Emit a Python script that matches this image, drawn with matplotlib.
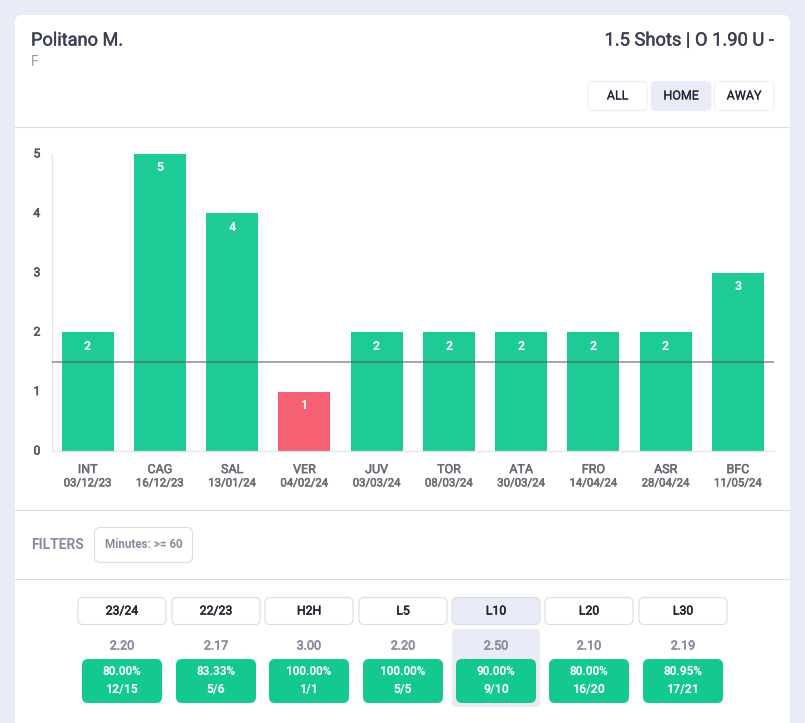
import matplotlib
matplotlib.use("Agg")
import matplotlib.pyplot as plt
import matplotlib.patheffects as pe
from matplotlib.patches import FancyBboxPatch
from matplotlib.transforms import ScaledTranslation

plt.rcParams['font.family'] = ['Roboto', 'DejaVu Sans']

# chart data
teams = ["INT", "CAG", "SAL", "VER", "JUV", "TOR", "ATA", "FRO", "ASR", "BFC"]
dates = ["03/12/23", "16/12/23", "13/01/24", "04/02/24", "03/03/24",
         "08/03/24", "30/03/24", "14/04/24", "28/04/24", "11/05/24"]
shots = [2, 5, 4, 1, 2, 2, 2, 2, 2, 3]
line_value = 1.5
y_ticks = [0, 1, 2, 3, 4, 5]

# stats table under the chart
periods = ["23/24", "22/23", "H2H", "L5", "L10", "L20", "L30"]
averages = ["2.20", "2.17", "3.00", "2.20", "2.50", "2.10", "2.19"]
percents = ["80.00%", "83.33%", "100.00%", "100.00%", "90.00%", "80.00%", "80.95%"]
counts = ["12/15", "5/6", "1/1", "5/5", "9/10", "16/20", "17/21"]
range_buttons = ["ALL", "HOME", "AWAY"]

GREEN = "#1ecb97"
RED = "#f56173"
BADGE = "#14c98f"
PAGE = "#e9ecf6"
BORDER = "#dcdde2"
DARK = "#3c3f52"
GREY = "#8a8a9e"

W, H = 805, 723
fig = plt.figure(figsize=(W / 100, H / 100), dpi=100, facecolor=PAGE)

# page layer in pixel coords, y going down
bg = fig.add_axes([0, 0, 1, 1])
bg.set_xlim(0, W)
bg.set_ylim(H, 0)
bg.axis("off")


def rbox(x0, y0, x1, y1, r=5, fc="white", ec="none", lw=0.8, z=1):
    bg.add_patch(FancyBboxPatch((x0 + r, y0 + r), x1 - x0 - 2 * r, y1 - y0 - 2 * r,
                                boxstyle="round,pad=%g,rounding_size=%g" % (r, r),
                                fc=fc, ec=ec, lw=lw, zorder=z))


def medium(txt, color, w=0.3):
    # no medium weight in the font, thicken it a bit
    txt.set_path_effects([pe.withStroke(linewidth=w, foreground=color)])


rbox(15, 15, 790, 740, r=7)

for y in [127, 510, 579]:
    bg.plot([15, 790], [y, y], color=BORDER, lw=0.8, zorder=2)

t = bg.text(31, 40.5, "Politano M.", fontsize=13.1, color=DARK, va="center", ha="left")
medium(t, DARK)
bg.text(31, 62, "F", fontsize=10, color="#9a9aa8", va="center", ha="left")
t = bg.text(774.5, 40.5, "1.5 Shots | O 1.90 U -", fontsize=13.2, color=DARK, va="center", ha="right")
medium(t, DARK)

btn_x = [(588, 647), (651, 711), (714, 774)]
for (x0, x1), lab in zip(btn_x, range_buttons):
    active = lab == "HOME"
    rbox(x0, 81.5, x1, 110.5, r=5, fc=PAGE if active else "white",
         ec=PAGE if active else "#eeeef2", z=3)
    t = bg.text((x0 + x1) / 2, 96, lab, fontsize=9, color="#26283a", ha="center", va="center", zorder=4)
    medium(t, "#26283a", 0.15)

# the chart itself
ax = fig.add_axes([51.5 / W, 1 - 451 / H, (774 - 51.5) / W, (451 - 154) / H])
ax.patch.set_alpha(0)
colors = [GREEN if v > line_value else RED for v in shots]
xs = range(len(shots))
ax.bar(xs, shots, width=0.72, color=colors, zorder=2)
ax.axhline(line_value, color="#555555", alpha=0.62, lw=1.2, zorder=3)
ax.set_xlim(-0.5, len(shots) - 0.5)
ax.set_ylim(0, 5)
ax.set_yticks(y_ticks)
ax.set_xticks(list(xs))
ax.set_xticklabels(teams)
ax.tick_params(axis="x", length=0, pad=8.7, labelsize=9, labelcolor="#6b6b73")
ax.tick_params(axis="y", length=0, pad=8, labelsize=8.8, labelcolor="#55555f")
for lab in ax.get_xticklabels():
    medium(lab, "#6b6b73", 0.35)
lift = ScaledTranslation(0, 1.5 / 100, fig.dpi_scale_trans)
for lab in ax.get_yticklabels():
    medium(lab, "#55555f", 0.4)
    lab.set_transform(lab.get_transform() + lift)
for x, d in zip(xs, dates):
    t = ax.annotate(d, (x, 0), xytext=(0, -23.3), textcoords="offset points", ha="center", va="center",
                    color="#6b6b73", fontsize=8.2, annotation_clip=False)
    medium(t, "#6b6b73", 0.35)
for s in ["top", "right"]:
    ax.spines[s].set_visible(False)
for s in ["left", "bottom"]:
    ax.spines[s].set_color("#e2e4ea")
    ax.spines[s].set_linewidth(0.9)
for x, v in zip(xs, shots):
    ax.annotate(str(v), (x, v), xytext=(0, -10), textcoords="offset points", ha="center", va="center",
                color="white", fontsize=9, fontweight="bold", zorder=4)

# filters row
bg.text(31, 544.8, "FILTERS", fontsize=10, color=GREY, fontweight="bold", ha="left", va="center")
rbox(94.5, 527.5, 192.5, 562.5, r=6, ec=BORDER, z=3)
bg.text(143.5, 545, "Minutes: >= 60", fontsize=8.4, color=GREY, fontweight="bold", ha="center", va="center")

# stats columns
centers = [122, 216, 309, 403, 496, 589, 683]
rbox(452, 629, 540, 707, r=4, fc=PAGE, z=2)
for cx, per, avg, pct, cnt in zip(centers, periods, averages, percents, counts):
    active = per == "L10"
    rbox(cx - 44, 597.5, cx + 44, 624.5, r=5, fc=PAGE if active else "white", ec=BORDER, z=3)
    t = bg.text(cx, 611, per, fontsize=8.8, color="#22232f", ha="center", va="center", zorder=4)
    medium(t, "#22232f", 0.35)
    t = bg.text(cx, 646, avg, fontsize=9, color=GREY, ha="center", va="center", zorder=4)
    medium(t, GREY, 0.4)
    rbox(cx - 40, 659, cx + 40, 703, r=6, fc=BADGE, z=3)
    bg.text(cx, 671.5, pct, fontsize=8.5, color="white", fontweight="bold", ha="center", va="center", zorder=4)
    bg.text(cx, 689.5, cnt, fontsize=8.8, color="white", fontweight="bold", ha="center", va="center", zorder=4)

fig.savefig("out.png", dpi=100, facecolor=fig.get_facecolor())
